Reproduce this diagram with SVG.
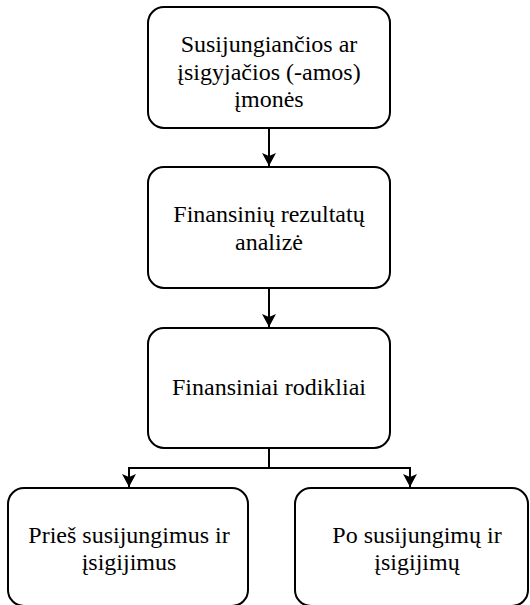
<svg xmlns="http://www.w3.org/2000/svg" width="530" height="605" viewBox="0 0 530 605">
<defs>
<style>
.box{fill:#fff;stroke:#000;stroke-width:2}
.lbl{font-family:"Liberation Serif","Times New Roman",serif;font-size:24px;fill:#000;text-anchor:middle}
.con{fill:none;stroke:#000;stroke-width:2}
</style>
<marker id="arr" viewBox="0 0 13 14" refX="13" refY="7" markerWidth="13" markerHeight="14" markerUnits="userSpaceOnUse" orient="auto">
<path d="M0,0 L13,7 L0,14 L3,7 Z" fill="#000"/>
</marker>
</defs>
<rect width="530" height="605" fill="#fff"/>
<g id="connectors">
<path class="con" d="M269,128 L269,166" marker-end="url(#arr)"/>
<path class="con" d="M269,288 L269,327" marker-end="url(#arr)"/>
<path class="con" d="M269,448 L269,468 L129,468 L129,487" marker-end="url(#arr)"/>
<path class="con" d="M269,468 L410,468 L410,487" marker-end="url(#arr)"/>
</g>
<g id="node1">
<rect class="box" x="148" y="7" width="242" height="121" rx="16"/>
<text class="lbl" x="269" y="52">Susijungiančios ar</text>
<text class="lbl" x="269" y="80">įsigyjačios (-amos)</text>
<text class="lbl" x="269" y="107">įmonės</text>
</g>
<g id="node2">
<rect class="box" x="148" y="167" width="242" height="121" rx="16"/>
<text class="lbl" x="269" y="222">Finansinių rezultatų</text>
<text class="lbl" x="269" y="250">analizė</text>
</g>
<g id="node3">
<rect class="box" x="148" y="328" width="242" height="120" rx="16"/>
<text class="lbl" x="269" y="395">Finansiniai rodikliai</text>
</g>
<g id="node4">
<rect class="box" x="8" y="488" width="240" height="118" rx="16"/>
<text class="lbl" x="129" y="543">Prieš susijungimus ir</text>
<text class="lbl" x="129" y="570">įsigijimus</text>
</g>
<g id="node5">
<rect class="box" x="295" y="488" width="233" height="118" rx="16"/>
<text class="lbl" x="417" y="543">Po susijungimų ir</text>
<text class="lbl" x="417" y="570">įsigijimų</text>
</g>
</svg>
